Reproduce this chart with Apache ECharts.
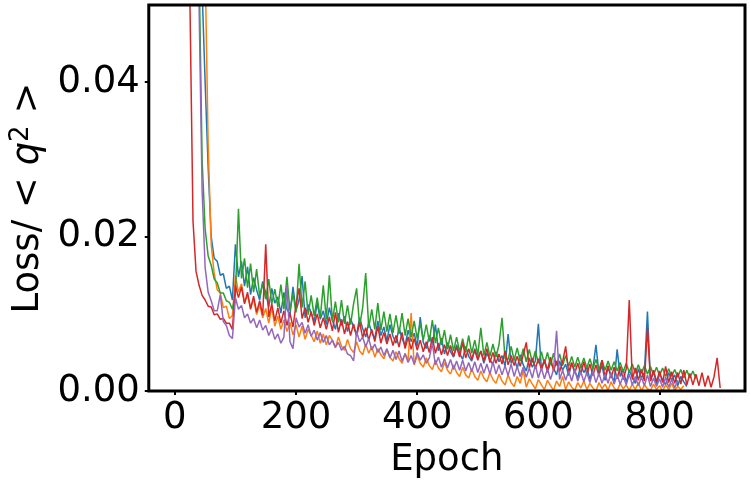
<!DOCTYPE html>
<html>
<head>
<meta charset="utf-8">
<script src="https://cdn.jsdelivr.net/npm/echarts@6/dist/echarts.min.js"></script>
<style>html,body{margin:0;padding:0;background:#fff;}#c{width:750px;height:484px;}</style>
</head>
<body>
<div id="c"></div>
<script>
// Epochs sampled every 5 epochs
const epochs = [];
for (let e = 0; e <= 900; e += 5) epochs.push(e);

const xTicks = [0, 200, 400, 600, 800];
const yTicks = [0, 0.02, 0.04];
const seriesNames = ['run1', 'run2', 'run3', 'run4', 'run5'];

const blueLoss = [
2.0,1.0,0.5,0.3,0.2,0.14,0.1,0.08,0.065,0.052,
0.040,0.029,0.020,0.0172,0.0168,0.0150,0.0152,0.0133,0.0136,0.0118,
0.0190,0.0148,0.0168,0.0136,0.0161,0.0125,0.0147,0.0131,0.0118,0.0142,
0.0127,0.0109,0.0133,0.0114,0.0122,0.0101,0.0128,0.0106,0.0099,0.0135,
0.0104,0.0118,0.0149,0.0095,0.0112,0.0101,0.0090,0.0114,0.0093,0.0104,
0.0086,0.0108,0.0092,0.0080,0.0101,0.0085,0.0097,0.0077,0.0094,0.0083,
0.0073,0.0095,0.0081,0.0070,0.0089,0.0076,0.0068,0.0091,0.0072,0.0083,
0.0065,0.0086,0.0071,0.0062,0.0082,0.0068,0.0059,0.0079,0.0064,0.0075,
0.0058,0.0096,0.0063,0.0055,0.0072,0.0060,0.0086,0.0052,0.0069,0.0048,
0.0063,0.0051,0.0044,0.0060,0.0049,0.0041,0.0058,0.0045,0.0039,0.0055,
0.0043,0.0052,0.0036,0.0049,0.0041,0.0034,0.0051,0.0038,0.0046,0.0032,
0.0074,0.0036,0.0044,0.0029,0.0047,0.0034,0.0026,0.0043,0.0031,0.0039,
0.0087,0.0028,0.0041,0.0024,0.0037,0.0030,0.0021,0.0039,0.0027,0.0035,
0.0020,0.0036,0.0026,0.0017,0.0034,0.0024,0.0031,0.0015,0.0029,0.0060,
0.0022,0.0033,0.0014,0.0030,0.0021,0.0012,0.0054,0.0019,0.0028,0.0011,
0.0027,0.0018,0.0010,0.0029,0.0017,0.0024,0.0103,0.0013,0.0026,0.0009,
0.0022,0.0015,0.0008,0.0024,0.0014,0.0021,0.0007,0.0019,0.0012,0.0006
];

const orangeLoss = [
3.0,1.5,0.8,0.5,0.3,0.2,0.15,0.11,0.085,0.068,
0.055,0.032,0.0190,0.0152,0.0131,0.0127,0.0108,0.0110,0.0094,0.0098,
0.0150,0.0128,0.0139,0.0115,0.0124,0.0108,0.0119,0.0099,0.0112,0.0095,
0.0107,0.0088,0.0108,0.0084,0.0097,0.0080,0.0092,0.0077,0.0089,0.0073,
0.0086,0.0070,0.0084,0.0067,0.0080,0.0072,0.0064,0.0078,0.0062,0.0074,
0.0060,0.0072,0.0066,0.0056,0.0070,0.0058,0.0053,0.0067,0.0055,0.0050,
0.0064,0.0052,0.0047,0.0061,0.0049,0.0058,0.0044,0.0055,0.0047,0.0042,
0.0054,0.0044,0.0039,0.0051,0.0042,0.0036,0.0049,0.0040,0.0101,0.0034,
0.0046,0.0036,0.0031,0.0043,0.0033,0.0028,0.0040,0.0030,0.0025,0.0037,
0.0027,0.0022,0.0034,0.0024,0.0019,0.0031,0.0021,0.0017,0.0029,0.0019,
0.0014,0.0026,0.0017,0.0012,0.0024,0.0015,0.0010,0.0022,0.0013,0.0008,
0.0021,0.0011,0.0006,0.0019,0.0010,0.0027,0.0005,0.0016,0.0009,0.0003,
0.0015,0.0008,0.0002,0.0014,0.0007,0.0001,0.0013,0.0006,0.0019,0.0002,
0.0012,0.0005,0.0001,0.0011,0.0004,0.0013,0.0002,0.0010,0.0004,0.0000,
0.0011,0.0003,0.0009,0.0001,0.0012,0.0004,0.0000,0.0010,0.0003,0.0008,
0.0001,0.0009,0.0002,0.0011,0.0000,0.0008,0.0003,0.0001,0.0009,0.0002,
0.0007,0.0000,0.0008,0.0002,0.0010,0.0001,0.0006,0.0002,0.0007
];

const greenLoss = [
2.5,1.2,0.6,0.3,0.15,0.1,0.075,0.062,0.055,0.030,
0.021,0.0175,0.0163,0.0145,0.0140,0.0127,0.0127,0.0117,0.0115,0.0106,
0.0125,0.0236,0.0146,0.0172,0.0134,0.0165,0.0128,0.0158,0.0123,0.0139,
0.0119,0.0145,0.0113,0.0132,0.0109,0.0138,0.0106,0.0148,0.0104,0.0126,
0.0102,0.0165,0.0108,0.0142,0.0099,0.0124,0.0097,0.0121,0.0095,0.0137,
0.0093,0.0150,0.0091,0.0116,0.0089,0.0118,0.0087,0.0111,0.0086,0.0113,
0.0133,0.0084,0.0108,0.0153,0.0082,0.0106,0.0080,0.0114,0.0079,0.0103,
0.0077,0.0100,0.0075,0.0098,0.0074,0.0101,0.0072,0.0094,0.0070,0.0091,
0.0068,0.0088,0.0066,0.0086,0.0064,0.0092,0.0062,0.0082,0.0060,0.0079,
0.0054,0.0073,0.0052,0.0070,0.0051,0.0068,0.0050,0.0072,0.0049,0.0066,
0.0047,0.0082,0.0046,0.0063,0.0045,0.0061,0.0044,0.0060,0.0095,0.0042,
0.0041,0.0058,0.0040,0.0056,0.0039,0.0055,0.0038,0.0054,0.0037,0.0052,
0.0036,0.0051,0.0035,0.0050,0.0034,0.0049,0.0033,0.0048,0.0033,0.0046,
0.0032,0.0045,0.0031,0.0044,0.0031,0.0043,0.0030,0.0042,0.0029,0.0041,
0.0028,0.0040,0.0027,0.0039,0.0027,0.0038,0.0026,0.0037,0.0025,0.0036,
0.0024,0.0035,0.0023,0.0034,0.0023,0.0033,0.0022,0.0032,0.0021,0.0031,
0.0020,0.0030,0.0019,0.0029,0.0019,0.0028,0.0018,0.0028,0.0017,0.0027,
0.0017,0.0026,0.0016
];

const redLoss = [
1.2,0.6,0.3,0.15,0.08,0.05,0.022,0.0155,0.0137,0.0124,
0.0118,0.0110,0.0109,0.0099,0.0100,0.0093,0.0094,0.0088,0.0088,0.0080,
0.0137,0.0121,0.0135,0.0113,0.0128,0.0106,0.0123,0.0102,0.0117,0.0098,
0.0190,0.0096,0.0113,0.0091,0.0108,0.0088,0.0104,0.0085,0.0101,0.0083,
0.0112,0.0133,0.0094,0.0108,0.0089,0.0103,0.0085,0.0100,0.0082,0.0095,
0.0080,0.0096,0.0078,0.0102,0.0076,0.0093,0.0074,0.0090,0.0072,0.0087,
0.0071,0.0089,0.0069,0.0082,0.0066,0.0080,0.0064,0.0084,0.0062,0.0076,
0.0061,0.0074,0.0059,0.0072,0.0057,0.0076,0.0055,0.0070,0.0054,0.0068,
0.0053,0.0066,0.0051,0.0064,0.0050,0.0070,0.0049,0.0062,0.0047,0.0060,
0.0046,0.0059,0.0045,0.0057,0.0044,0.0063,0.0043,0.0055,0.0041,0.0053,
0.0040,0.0052,0.0039,0.0055,0.0037,0.0050,0.0036,0.0048,0.0035,0.0052,
0.0034,0.0046,0.0033,0.0045,0.0032,0.0047,0.0063,0.0030,0.0043,0.0029,
0.0042,0.0028,0.0040,0.0027,0.0044,0.0026,0.0039,0.0025,0.0038,0.0058,
0.0024,0.0037,0.0023,0.0036,0.0022,0.0038,0.0021,0.0035,0.0020,0.0034,
0.0019,0.0040,0.0018,0.0033,0.0017,0.0031,0.0016,0.0032,0.0015,0.0029,
0.0118,0.0015,0.0030,0.0014,0.0028,0.0013,0.0082,0.0013,0.0027,0.0012,
0.0026,0.0011,0.0032,0.0011,0.0025,0.0010,0.0024,0.0009,0.0027,0.0008,
0.0023,0.0008,0.0022,0.0007,0.0024,0.0006,0.0020,0.0005,0.0019,0.0043,
0.0004
];

const purpleLoss = [
1.5,0.8,0.4,0.2,0.12,0.09,0.07,0.058,0.05,0.026,
0.0160,0.0128,0.0117,0.0104,0.0104,0.0125,0.0090,0.0085,0.0072,0.0068,
0.0121,0.0106,0.0111,0.0095,0.0100,0.0088,0.0094,0.0082,0.0092,0.0079,
0.0085,0.0072,0.0081,0.0067,0.0074,0.0062,0.0070,0.0137,0.0064,0.0055,
0.0095,0.0083,0.0089,0.0075,0.0086,0.0071,0.0079,0.0066,0.0076,0.0063,
0.0072,0.0060,0.0066,0.0057,0.0063,0.0053,0.0058,0.0048,0.0046,0.0039,
0.0077,0.0064,0.0070,0.0057,0.0068,0.0053,0.0061,0.0050,0.0057,0.0046,
0.0055,0.0043,0.0053,0.0041,0.0052,0.0039,0.0048,0.0037,0.0046,0.0035,
0.0050,0.0040,0.0047,0.0036,0.0043,0.0062,0.0034,0.0044,0.0031,0.0042,
0.0030,0.0041,0.0028,0.0039,0.0027,0.0040,0.0026,0.0037,0.0025,0.0038,
0.0024,0.0036,0.0023,0.0035,0.0022,0.0038,0.0022,0.0034,0.0021,0.0033,
0.0020,0.0035,0.0019,0.0032,0.0019,0.0031,0.0018,0.0030,0.0017,0.0034,
0.0017,0.0030,0.0016,0.0029,0.0015,0.0028,0.0078,0.0015,0.0027,0.0014,
0.0026,0.0013,0.0028,0.0013,0.0025,0.0012,0.0024,0.0011,0.0026,0.0011,
0.0023,0.0010,0.0022,0.0010,0.0024,0.0009,0.0021,0.0009,0.0020,0.0008,
0.0022,0.0008,0.0019,0.0007,0.0018,0.0007,0.0021,0.0006,0.0017,0.0006,
0.0016,0.0005,0.0018,0.0005,0.0015,0.0004,0.0014
];

const colors = ['#1f77b4', '#ff7f0e', '#2ca02c', '#d62728', '#9467bd'];
const allLoss = [blueLoss, orangeLoss, greenLoss, redLoss, purpleLoss];

const FONT = 'DejaVu Sans';
const chart = echarts.init(document.getElementById('c'), null, {renderer: 'canvas'});

const series = allLoss.map((vals, k) => ({
  name: seriesNames[k],
  type: 'line',
  data: vals.map((v, i) => [epochs[i], v]),
  showSymbol: false,
  symbol: 'none',
  clip: true,
  lineStyle: {color: colors[k], width: 1.5},
  itemStyle: {color: colors[k]},
  emphasis: {disabled: true},
  z: 2 + k
}));

chart.setOption({
  animation: false,
  backgroundColor: '#fff',
  grid: {left: 147, right: 5, top: 5, bottom: 91, show: true, borderColor: '#000', borderWidth: 3, backgroundColor: 'transparent', z: 10},
  xAxis: {
    type: 'value', min: -43, max: 941,
    name: 'Epoch', nameLocation: 'middle', nameGap: 45,
    nameTextStyle: {fontFamily: FONT, fontSize: 37, color: '#000'},
    axisLine: {show: false, onZero: false},
    axisTick: {show: true, customValues: xTicks, length: 4, lineStyle: {color: '#000', width: 2}},
    axisLabel: {customValues: xTicks, fontFamily: FONT, fontSize: 37, color: '#000', margin: 9},
    splitLine: {show: false}
  },
  yAxis: {
    type: 'value', min: 0, max: 0.05,
    name: 'Loss/ < {q|q}{s|2} >', nameLocation: 'middle', nameRotate: 90, nameGap: 100,
    nameTextStyle: {fontFamily: FONT, fontSize: 37, color: '#000',
      rich: {
        q: {fontFamily: FONT, fontSize: 37, fontStyle: 'italic', color: '#000'},
        s: {fontFamily: FONT, fontSize: 26, color: '#000', verticalAlign: 'top', padding: [0, 0, 14, 0]}
      }},
    axisLine: {show: false, onZero: false},
    axisTick: {show: true, customValues: yTicks, length: 4, lineStyle: {color: '#000', width: 2}},
    axisLabel: {customValues: yTicks, fontFamily: FONT, fontSize: 37, color: '#000', margin: 9,
      formatter: v => v.toFixed(2)},
    splitLine: {show: false}
  },
  series: series
});
</script>
</body>
</html>
